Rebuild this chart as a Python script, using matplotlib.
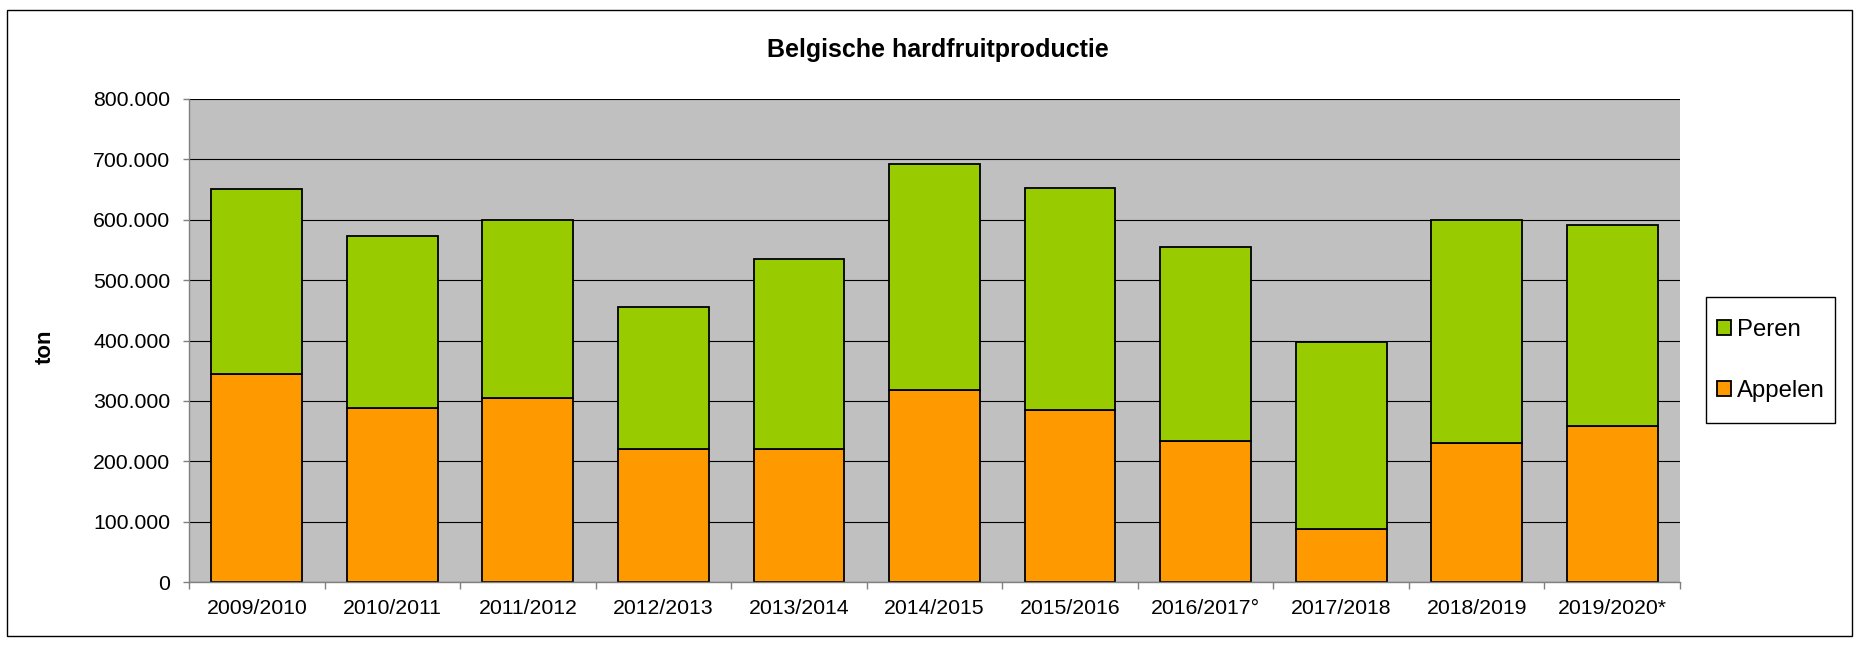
import numpy as np
import matplotlib.pyplot as plt
from matplotlib.patches import Rectangle
from matplotlib.ticker import FuncFormatter, FixedLocator

seasons = ['2009/2010', '2010/2011', '2011/2012', '2012/2013', '2013/2014', '2014/2015',
           '2015/2016', '2016/2017°', '2017/2018', '2018/2019', '2019/2020*']
appelen = [344000, 288000, 304000, 220000, 220000, 318000, 285000, 233000, 88000, 231000, 258000]
peren = [307000, 285000, 296000, 236000, 315000, 374000, 368000, 322000, 310000, 369000, 333000]

def main():
    plt.rcParams['font.family'] = ['Liberation Sans', 'DejaVu Sans']
    W, H = 1861, 645
    fig = plt.figure(figsize=(W / 100, H / 100), dpi=100)
    # outer chart border
    fig.patches.append(Rectangle((7 / W, 1 - 636 / H), (1852 - 7) / W, (636 - 10) / H,
                                 transform=fig.transFigure, fill=False, ec='black', lw=1))
    # legend box (drawn below the legend entries)
    fig.patches.append(Rectangle((1706 / W, 1 - 423 / H), (1835 - 1706) / W, (423 - 297) / H,
                                 transform=fig.transFigure, fill=True, fc='white', ec='black',
                                 lw=1, zorder=-1))
    ax = fig.add_axes([189 / W, 1 - 582 / H, (1680 - 189) / W, (582 - 99) / H])
    ax.set_facecolor('#c0c0c0')

    x = np.arange(len(seasons))
    b1 = ax.bar(x, appelen, width=0.67, color='#ff9900', edgecolor='black', linewidth=1.3, label='Appelen')
    b2 = ax.bar(x, peren, width=0.67, bottom=appelen, color='#99cc00', edgecolor='black', linewidth=1.3, label='Peren')

    ax.set_xlim(-0.5, len(seasons) - 0.5)
    ax.set_ylim(0, 800000)
    ax.set_yticks(np.arange(0, 800001, 100000))
    ax.yaxis.set_major_formatter(FuncFormatter(lambda v, p: f"{int(v):,}".replace(",", ".")))
    ax.set_xticks(x)
    ax.set_xticklabels(seasons)
    ax.xaxis.set_minor_locator(FixedLocator(np.arange(-0.5, len(seasons), 1.0)))
    ax.tick_params(axis='x', which='major', length=0, pad=12, labelsize=15.3)
    ax.tick_params(axis='x', which='minor', length=5, width=1, color='#808080')
    ax.tick_params(axis='y', length=4.5, width=1, color='#808080', pad=9, labelsize=15.3)

    ax.set_axisbelow(True)
    ax.yaxis.grid(True, color='black', lw=0.8)
    for s in ['top', 'right']:
        ax.spines[s].set_visible(False)
    for s in ['left', 'bottom']:
        ax.spines[s].set_color('#808080')
        ax.spines[s].set_linewidth(1)

    fig.text(938 / W, 1 - 50 / H, 'Belgische hardfruitproductie', ha='center', va='center',
             fontsize=18, fontweight='bold')
    fig.text(45.5 / W, 1 - 347 / H, 'ton', ha='center', va='center', rotation=90,
             fontsize=16, fontweight='bold')

    ax.legend([b2, b1], ['Peren', 'Appelen'], loc='center left',
              bbox_to_anchor=(1717 / W, 1 - 360.5 / H), bbox_transform=fig.transFigure,
              fontsize=17.2, frameon=False, borderpad=0,
              labelspacing=1.66, handlelength=0.58, handleheight=0.58, handletextpad=0.25,
              borderaxespad=0)

    fig.savefig('out.png', dpi=100)

if __name__ == "__main__":
    main()
